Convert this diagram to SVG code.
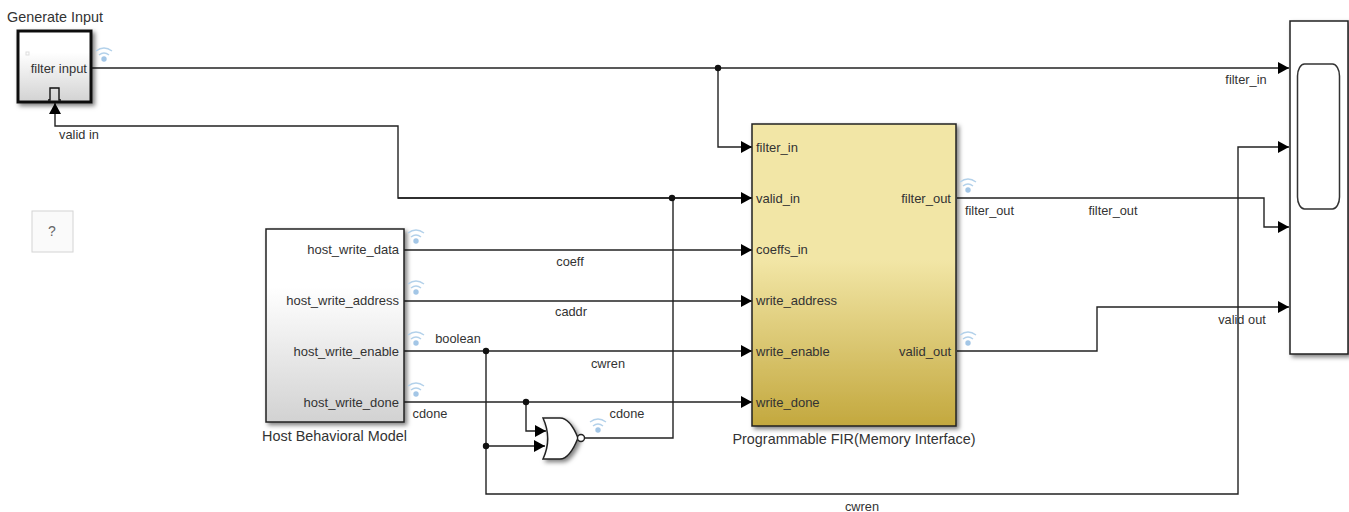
<svg xmlns="http://www.w3.org/2000/svg" width="1349" height="512" viewBox="0 0 1349 512">
<style>
text{font-family:"Liberation Sans",Arial,sans-serif;font-size:13px;fill:#333}
.n{font-size:14.4px}
.l{font-size:12.8px}
.e{text-anchor:end}.m{text-anchor:middle}
.w{fill:none;stroke:#222;stroke-width:1.4}
.b{stroke:#222;stroke-width:1.5}
.d{fill:#111}
.wifi path{fill:none;stroke:#b3d1ea;stroke-width:1.4}
.wifi circle{fill:#a3c6e6}
</style>
<defs>
<linearGradient id="g" x1="0" y1="0" x2="0" y2="1"><stop offset="0" stop-color="#fff"/><stop offset=".3" stop-color="#fff"/><stop offset="1" stop-color="#d2d2d2"/></linearGradient>
<linearGradient id="y" x1="0" y1="0" x2="0" y2="1"><stop offset="0" stop-color="#f2e6a6"/><stop offset=".45" stop-color="#f2e6a6"/><stop offset="1" stop-color="#c3a83e"/></linearGradient>
<filter id="s" x="-15%" y="-15%" width="140%" height="140%"><feDropShadow dx="2.500" dy="2.500" stdDeviation="2.200" flood-color="#000" flood-opacity=".5"/></filter>
<marker id="a" markerUnits="userSpaceOnUse" markerWidth="12" markerHeight="12" refX="11" refY="6" orient="auto"><path d="M0 0L11 6L0 12Z" fill="#000"/></marker>
<g id="wifi" class="wifi"><path d="M-8 -5Q0 -11 8 -5"/><path d="M-5 -1Q0 -5 5 -1"/><circle cx="0" cy="3" r="2.700"/></g>
</defs>

<g id="connectors">
<path class="w" marker-end="url(#a)" d="M91 68H1289"/>
<path class="w" marker-end="url(#a)" d="M718 68V147H752"/>
<path class="w" marker-end="url(#a)" d="M752 198H398V126H55V103"/>
<path class="w" marker-end="url(#a)" d="M398 198H752"/>
<path class="w" marker-end="url(#a)" d="M404 250H752"/>
<path class="w" marker-end="url(#a)" d="M404 301H752"/>
<path class="w" marker-end="url(#a)" d="M404 351H752"/>
<path class="w" marker-end="url(#a)" d="M404 402H752"/>
<path class="w" marker-end="url(#a)" d="M486 351V494H1238V147H1289"/>
<path class="w" marker-end="url(#a)" d="M486 446H545"/>
<path class="w" marker-end="url(#a)" d="M526 402V431H546"/>
<path class="w" d="M585 438H673V198"/>
<path class="w" marker-end="url(#a)" d="M957 198H1264V227H1289"/>
<path class="w" marker-end="url(#a)" d="M957 351H1097V307H1289"/>
<circle class="d" cx="718" cy="68" r="3.200"/>
<circle class="d" cx="672" cy="198" r="3.200"/>
<circle class="d" cx="486" cy="351" r="3.200"/>
<circle class="d" cx="526" cy="402" r="3.200"/>
<circle class="d" cx="486" cy="446" r="3.200"/>
</g>

<g id="generate-input">
<rect x="18" y="31" width="73" height="71" fill="url(#g)" stroke="#111" stroke-width="3" filter="url(#s)"/>
<rect x="26" y="52" width="3" height="3" fill="none" stroke="#ddd"/>
<rect x="30" y="71" width="9" height="7" fill="none" stroke="#e8e8e8"/>
<rect x="47" y="71" width="9" height="7" fill="none" stroke="#e8e8e8"/>
<text class="e" x="87" y="73">filter input</text>
<path d="M48 100H50V88H59V100H61" fill="none" stroke="#111" stroke-width="1.400"/>
<text class="m n" x="55" y="22">Generate Input</text>
<use href="#wifi" x="104" y="56"/>
</g>

<g id="help">
<rect x="32" y="211" width="41" height="41" fill="#fafafa" stroke="#d4d4d4"/>
<text class="m" x="52" y="236" style="font-size:14px;fill:#666">?</text>
</g>

<g id="host-behavioral-model">
<rect x="266" y="229" width="138" height="193" fill="url(#g)" class="b" filter="url(#s)"/>
<text class="e" x="399" y="254">host_write_data</text>
<text class="e" x="399" y="305">host_write_address</text>
<text class="e" x="399" y="356">host_write_enable</text>
<text class="e" x="399" y="407">host_write_done</text>
<text class="m n" x="334.500" y="441">Host Behavioral Model</text>
<use href="#wifi" x="416" y="238"/>
<use href="#wifi" x="416" y="289"/>
<use href="#wifi" x="416" y="340"/>
<use href="#wifi" x="416" y="391"/>
</g>

<g id="nor-gate">
<path d="M543 418H560C568 418 574 428 578 438C574 448 568 459 560 459H543C549 446 549 431 543 418Z" fill="#fff" class="b" filter="url(#s)"/>
<circle cx="581" cy="438" r="3.500" fill="#fff" stroke="#222" stroke-width="1.400"/>
<use href="#wifi" x="598" y="427"/>
</g>

<g id="programmable-fir">
<rect x="752" y="124" width="204" height="302" fill="url(#y)" class="b" filter="url(#s)"/>
<text x="756" y="152">filter_in</text>
<text x="756" y="203">valid_in</text>
<text x="756" y="254">coeffs_in</text>
<text x="756" y="305">write_address</text>
<text x="756" y="356">write_enable</text>
<text x="756" y="407">write_done</text>
<text class="e" x="951" y="203">filter_out</text>
<text class="e" x="951" y="356">valid_out</text>
<text class="m n" x="854" y="444">Programmable FIR(Memory Interface)</text>
<use href="#wifi" x="968" y="187"/>
<use href="#wifi" x="968" y="340"/>
</g>

<g id="scope">
<rect x="1290" y="21" width="58" height="333" fill="#fff" class="b" filter="url(#s)"/>
<rect x="1297.500" y="64" width="42" height="145" rx="7" ry="12" fill="#fff" stroke="#333" stroke-width="1.500"/>
</g>

<g id="labels">
<text class="m l" x="79" y="139">valid in</text>
<text class="m l" x="1246" y="84">filter_in</text>
<text class="m l" x="989.500" y="215">filter_out</text>
<text class="m l" x="1113" y="215">filter_out</text>
<text class="m l" x="570" y="266">coeff</text>
<text class="m l" x="571" y="316">caddr</text>
<text class="m l" x="458" y="343">boolean</text>
<text class="m l" x="608" y="368">cwren</text>
<text class="m l" x="430" y="418">cdone</text>
<text class="m l" x="627" y="418">cdone</text>
<text class="m l" x="1242" y="324">valid out</text>
<text class="m l" x="862" y="511">cwren</text>
</g>
</svg>
